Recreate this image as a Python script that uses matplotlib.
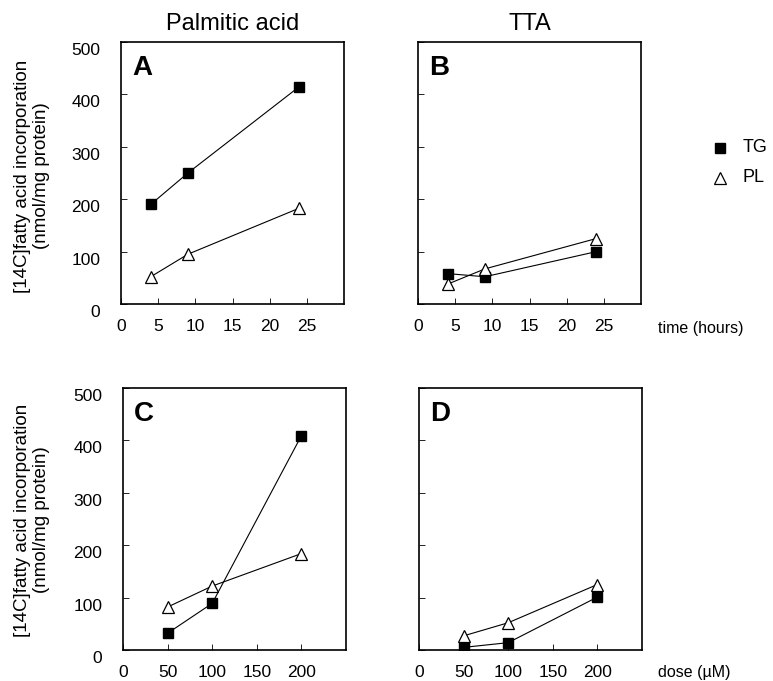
import numpy as np
import matplotlib.pyplot as plt
import matplotlib.transforms as mtransforms

plt.rcParams['font.family'] = ['Liberation Sans', 'DejaVu Sans']

# time course (hours)
time_h = [4, 9, 24]
a_tg = [190, 250, 415]
a_pl = [52, 95, 183]
b_tg = [58, 52, 100]
b_pl = [38, 67, 125]

# dose response (uM)
dose = [50, 100, 200]
c_tg = [32, 89, 409]
c_pl = [82, 122, 184]
d_tg = [5, 14, 101]
d_pl = [27, 52, 125]

time_ticks = [0, 5, 10, 15, 20, 25]
dose_ticks = [0, 50, 100, 150, 200]
y_ticks = [0, 100, 200, 300, 400, 500]

fig = plt.figure(figsize=(7.73, 6.81), dpi=100)

W = 223 / 773
H = 262 / 681
axA = fig.add_axes([121 / 773, 1 - 304 / 681, W, H])
axB = fig.add_axes([418 / 773, 1 - 304 / 681, W, H])
axC = fig.add_axes([123 / 773, 1 - 650 / 681, W, H])
axD = fig.add_axes([419 / 773, 1 - 650 / 681, W, H])


def style(ax, x, tg, pl, xlim, xticks, letter, ylabels):
    ax.plot(x, tg, '-', color='black', lw=0.8, marker='s', ms=7,
            mfc='black', mec='black', zorder=3)
    ax.plot(x, pl, '-', color='black', lw=0.8, marker='^', ms=8,
            mfc='white', mec='black', mew=0.9, zorder=3)
    ax.set_xlim(xlim)
    ax.set_ylim(0, 500)
    ax.set_xticks(xticks)
    ax.set_yticks(y_ticks)
    ax.tick_params(direction='in', length=4, width=0.6, labelsize=12.5)
    ax.tick_params(axis='x', pad=11)
    ax.tick_params(axis='y', pad=15)
    if not ylabels:
        ax.set_yticklabels([])
    for s in ax.spines.values():
        s.set_linewidth(1.2)
    # y labels sit a little low in the original
    off = mtransforms.ScaledTranslation(0, -7 / 100, fig.dpi_scale_trans)
    for lab in ax.get_yticklabels():
        lab.set_transform(lab.get_transform() + off)
    ax.text(0.05, 0.95, letter, transform=ax.transAxes, ha='left', va='top',
            fontsize=20, fontweight='heavy')


style(axA, time_h, a_tg, a_pl, (0, 30), time_ticks, 'A', True)
style(axB, time_h, b_tg, b_pl, (0, 30), time_ticks, 'B', False)
style(axC, dose, c_tg, c_pl, (0, 250), dose_ticks, 'C', True)
style(axD, dose, d_tg, d_pl, (0, 250), dose_ticks, 'D', False)

axA.set_title('Palmitic acid', fontsize=17, pad=9)
axB.set_title('TTA', fontsize=17, pad=9)

ylab = '[14C]fatty acid incorporation\n(nmol/mg protein)'
fig.text(32 / 773, 1 - 176 / 681, ylab, rotation=90, ha='center', va='center',
         fontsize=13.5, linespacing=1.2)
fig.text(32 / 773, 1 - 520 / 681, ylab, rotation=90, ha='center', va='center',
         fontsize=13.5, linespacing=1.2)

fig.text(658 / 773, 1 - 328 / 681, 'time (hours)', ha='left', va='center', fontsize=11.5)
fig.text(658 / 773, 1 - 673 / 681, 'dose (µM)', ha='left', va='center', fontsize=11.5)

# legend
fig.lines.append(plt.Line2D([720 / 773], [1 - 148 / 681], transform=fig.transFigure,
                            marker='s', ms=7, mfc='black', mec='black', ls='none'))
fig.lines.append(plt.Line2D([720 / 773], [1 - 178 / 681], transform=fig.transFigure,
                            marker='^', ms=8, mfc='white', mec='black', mew=0.9, ls='none'))
fig.text(743 / 773, 1 - 148 / 681, 'TG', ha='left', va='center', fontsize=13)
fig.text(743 / 773, 1 - 178 / 681, 'PL', ha='left', va='center', fontsize=13)

fig.savefig('out.png', dpi=100)
